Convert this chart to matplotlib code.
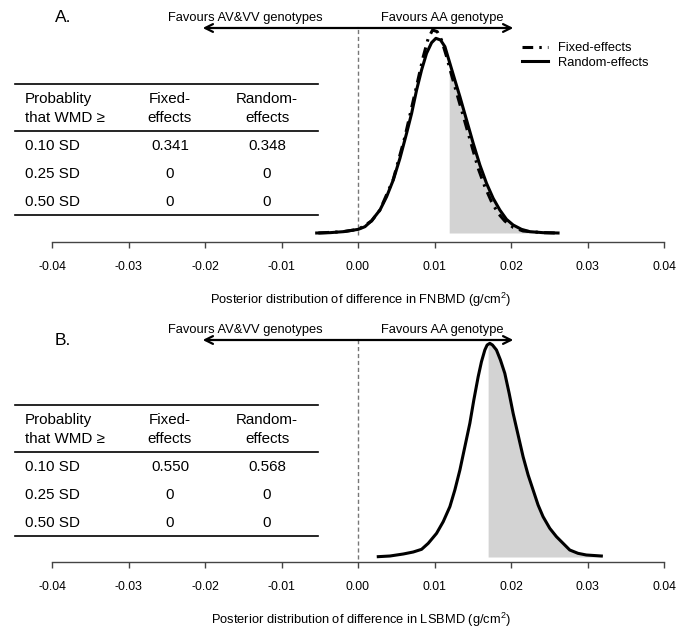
import numpy as np
import matplotlib.pyplot as plt
from matplotlib.lines import Line2D

plt.rcParams['font.family'] = ['Liberation Sans', 'DejaVu Sans']
plt.rcParams['mathtext.fontset'] = 'custom'
plt.rcParams['mathtext.rm'] = 'Liberation Sans'
plt.rcParams['mathtext.it'] = 'Liberation Sans:italic'
plt.rcParams['axes.unicode_minus'] = False

# posterior densities
fn_x_fixed = [-0.00518, -0.00192, 0.00004, 0.00178, 0.00287, 0.00461, 0.00614, 0.00744, 0.00853,
              0.00918, 0.00975, 0.01036, 0.01092, 0.01158, 0.01223, 0.01310, 0.01397, 0.01484,
              0.01571, 0.01658, 0.01745, 0.01832, 0.01919, 0.02028, 0.02158, 0.02419, 0.02594]
fn_d_fixed = [0, 0.8, 2.2, 7.2, 13.8, 32.2, 57.8, 83.8, 105.8,
              116.8, 121.8, 120.8, 115.8, 105.8, 94.8, 80.8, 66.8, 52.8,
              38.8, 27.8, 18.8, 11.8, 7.2, 3.4, 1.2, 0.2, 0]
fn_x_random = [-0.00540, -0.00366, -0.00192, 0.00004, 0.00091, 0.00178, 0.00287, 0.00374, 0.00461,
               0.00548, 0.00635, 0.00701, 0.00766, 0.00831, 0.00896, 0.00962, 0.01018, 0.01079,
               0.01136, 0.01201, 0.01266, 0.01332, 0.01419, 0.01506, 0.01593, 0.01680, 0.01767,
               0.01854, 0.01941, 0.02028, 0.02137, 0.02245, 0.02419, 0.02615]
fn_d_random = [0, 0.2, 0.8, 2.2, 3.8, 7.4, 13.8, 21.8, 31.8,
               44.8, 59.8, 71.8, 85.8, 97.8, 107.8, 114.2, 116.8, 115.8,
               111.8, 101.8, 91.8, 81.8, 67.8, 53.8, 40.8, 29.8, 20.8,
               13.8, 8.2, 4.8, 2.2, 0.8, 0.2, 0]
fn_shade_from = 0.01192

ls_x = [0.00265, 0.00418, 0.00592, 0.00722, 0.00831, 0.00918, 0.01027, 0.01114, 0.01201, 0.01266,
        0.01332, 0.01397, 0.01462, 0.01514, 0.01571, 0.01614, 0.01658, 0.01688, 0.01723, 0.01758,
        0.01810, 0.01862, 0.01919, 0.01976, 0.02028, 0.02093, 0.02158, 0.02224, 0.02289, 0.02354,
        0.02419, 0.02507, 0.02594, 0.02681, 0.02768, 0.02876, 0.02985, 0.03181]
ls_d = [0.2, 0.6, 1.8, 3.0, 4.6, 8.2, 14.2, 21.2, 30.2, 40.2,
        52.2, 66.2, 80.2, 94.2, 108.2, 117.2, 124.2, 127.2, 128.2, 127.2,
        124.2, 118.2, 110.2, 98.2, 86.2, 73.2, 60.2, 49.2, 40.2, 31.2,
        24.2, 17.2, 12.2, 8.2, 4.2, 2.2, 1.2, 0.6]
ls_shade_from = 0.01701

ticks = [-0.04, -0.03, -0.02, -0.01, 0.00, 0.01, 0.02, 0.03, 0.04]
tick_labels = ["-0.04", "-0.03", "-0.02", "-0.01", "0.00", "0.01", "0.02", "0.03", "0.04"]

row_labels = ["0.10 SD", "0.25 SD", "0.50 SD"]
fn_fixed_prob = ["0.341", "0", "0"]
fn_random_prob = ["0.348", "0", "0"]
ls_fixed_prob = ["0.550", "0", "0"]
ls_random_prob = ["0.568", "0", "0"]

W, H = 685, 637
fig = plt.figure(figsize=(W / 100, H / 100), dpi=100)
FS = 9.3
TFS = 10.9


def fx(x):
    return x / W


def fy(y):
    return 1 - y / H


def hline(x0, x1, y, lw=1.2):
    fig.add_artist(Line2D([fx(x0), fx(x1)], [fy(y), fy(y)], color="black", lw=lw,
                          transform=fig.transFigure))


def draw_table(dy, fixed_vals, random_vals):
    hline(15, 318, 84 + dy)
    hline(15, 318, 131 + dy)
    hline(15, 318, 215 + dy)
    fig.text(fx(25), fy(99 + dy), "Probablity", fontsize=TFS, va="center", ha="left")
    fig.text(fx(25), fy(118 + dy), "that WMD \u2265", fontsize=TFS, va="center", ha="left")
    fig.text(fx(170), fy(99 + dy), "Fixed-", fontsize=TFS, va="center", ha="center")
    fig.text(fx(170), fy(118 + dy), "effects", fontsize=TFS, va="center", ha="center")
    fig.text(fx(267), fy(99 + dy), "Random-", fontsize=TFS, va="center", ha="center")
    fig.text(fx(267), fy(118 + dy), "effects", fontsize=TFS, va="center", ha="center")
    for i, y in enumerate([146, 174, 202]):
        fig.text(fx(25), fy(y + dy), row_labels[i], fontsize=TFS, va="center", ha="left")
        fig.text(fx(170), fy(y + dy), fixed_vals[i], fontsize=TFS, va="center", ha="center")
        fig.text(fx(267), fy(y + dy), random_vals[i], fontsize=TFS, va="center", ha="center")


def make_panel(top, bottom, base, arrow_y, text_y, letter_y, letter, xlabel):
    ax = fig.add_axes([fx(52), fy(bottom), fx(664) - fx(52), (bottom - top) / H])
    ax.set_xlim(-0.04, 0.04)
    ax.set_ylim(-(bottom - base) * 0.6, (base - top) * 0.6)
    for s in ["top", "right", "left"]:
        ax.spines[s].set_visible(False)
    ax.spines["bottom"].set_color("#444444")
    ax.spines["bottom"].set_linewidth(1.0)
    ax.set_yticks([])
    ax.set_xticks(ticks)
    ax.set_xticklabels(tick_labels, fontsize=8.8)
    ax.tick_params(axis="x", direction="out", length=4.5, width=1.0, color="#444444", pad=9)
    ax.patch.set_alpha(0)

    tr = ax.get_xaxis_transform()
    ya = (bottom - arrow_y) / (bottom - top)
    yt = (bottom - text_y) / (bottom - top)
    yb = (bottom - base - 2) / (bottom - top)
    ax.plot([0, 0], [yb, ya], transform=tr, color="#777777", lw=1.0, ls=(0, (3, 2)), zorder=1)
    for end in (-0.0203, 0.0203):
        ax.annotate("", xy=(end, ya), xytext=(0, ya), xycoords=tr, textcoords=tr,
                    arrowprops=dict(arrowstyle="->", lw=1.6, color="black",
                                    mutation_scale=14, shrinkA=0, shrinkB=0))
    ax.text(-0.0147, yt, "Favours AV&VV genotypes", transform=tr, fontsize=FS,
            ha="center", va="center")
    ax.text(0.0110, yt, "Favours AA genotype", transform=tr, fontsize=FS,
            ha="center", va="center")
    fig.text(fx(63), fy(letter_y), letter, fontsize=12.5, ha="center", va="center")
    fig.text(fx(361), fy(bottom + 58), xlabel, fontsize=FS, ha="center", va="center")
    return ax


def shade(ax, xs, ds, x0):
    xs = np.array(xs)
    ds = np.array(ds)
    m = xs > x0
    sx = np.concatenate([[x0], xs[m]])
    sd = np.concatenate([[np.interp(x0, xs, ds)], ds[m]])
    ax.fill_between(sx, 0, sd, color="#d3d3d3", lw=0, zorder=2)


# panel A
axA = make_panel(10, 242, 233, 28, 18, 18, "A.",
                 "Posterior distribution of difference in FNBMD (g/cm$^{2}$)")
shade(axA, fn_x_random, fn_d_random, fn_shade_from)
lf, = axA.plot(fn_x_fixed, fn_d_fixed, color="black", lw=2.2, ls=(0, (3.5, 2, 0.8, 2)),
               zorder=3, label="Fixed-effects")
lr, = axA.plot(fn_x_random, fn_d_random, color="black", lw=2.2, zorder=4,
               label="Random-effects", solid_joinstyle="round")
axA.legend(handles=[lf, lr], loc="upper left", bbox_to_anchor=(fx(522), fy(42)),
           bbox_transform=fig.transFigure, frameon=False, fontsize=FS,
           handlelength=2.0, handletextpad=0.75, labelspacing=0.2, borderpad=0,
           borderaxespad=0)
draw_table(0, fn_fixed_prob, fn_random_prob)

# panel B
axB = make_panel(330, 562, 557, 340, 330, 341, "B.",
                 "Posterior distribution of difference in LSBMD (g/cm$^{2}$)")
shade(axB, ls_x, ls_d, ls_shade_from)
axB.plot(ls_x, ls_d, color="black", lw=2.2, zorder=4, solid_joinstyle="round")
draw_table(321, ls_fixed_prob, ls_random_prob)

fig.savefig("out.png", dpi=100)
